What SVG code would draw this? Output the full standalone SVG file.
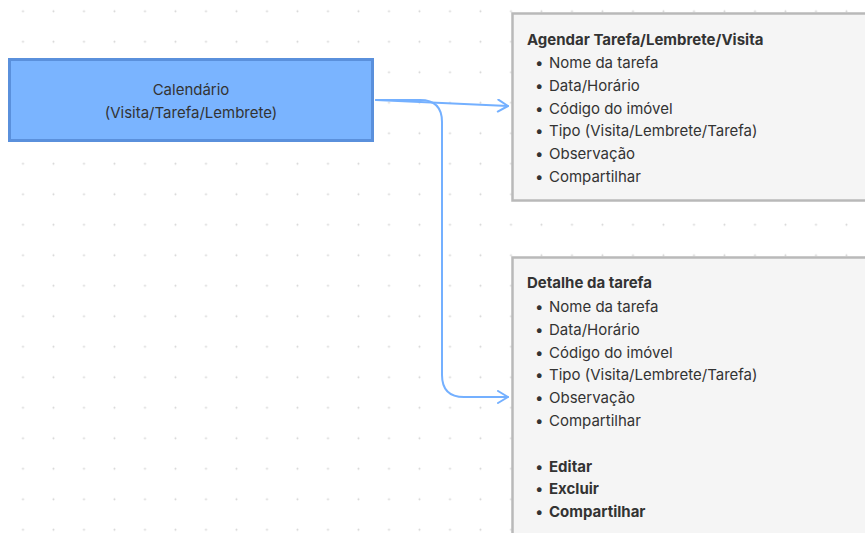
<svg xmlns="http://www.w3.org/2000/svg" width="865" height="533" viewBox="0 0 865 533">
<defs>
<pattern id="dots" x="0" y="0" width="30.5" height="30.5" patternUnits="userSpaceOnUse" patternTransform="translate(7.75 -4)">
<circle cx="15.25" cy="15.25" r="1" fill="#d4d4d4"/>
</pattern>
<marker id="arr" markerWidth="14" markerHeight="14" refX="12" refY="7" orient="auto" markerUnits="userSpaceOnUse">
<path d="M2,1 L12,7 L2,13" fill="none" stroke="#74b0ff" stroke-width="2" stroke-linecap="round" stroke-linejoin="round"/>
</marker>
<style>
.t{font-family:Inter,"Noto Sans","Liberation Sans",sans-serif;font-size:15px;fill:#333}
.b{font-weight:bold}
.card{fill:#f5f5f5;stroke:#b9b9b9;stroke-width:2.5}
.conn{fill:none;stroke:#74b0ff;stroke-width:2;stroke-linecap:round}
</style>
</defs>
<rect width="865" height="533" fill="#ffffff"/>
<rect width="865" height="533" fill="url(#dots)"/>
<g id="connectors">
<path class="conn" d="M376,100 L508,106" marker-end="url(#arr)"/>
<path class="conn" d="M376,100 L420,100 Q442,100 442,122 L442,375 Q442,397 464,397 L508,397" marker-end="url(#arr)"/>
</g>
<g id="calendario">
<rect x="9.5" y="59.5" width="363" height="81" fill="#7ab4ff" stroke="#5a90dc" stroke-width="3"/>
<text class="t" x="191" y="95" text-anchor="middle">Calendário</text>
<text class="t" x="191" y="118" text-anchor="middle">(Visita/Tarefa/Lembrete)</text>
</g>
<g id="agendar">
<rect class="card" x="512.5" y="13.5" width="360" height="187"/>
<text class="t b" x="527" y="45">Agendar Tarefa/Lembrete/Visita</text>
<g class="t">
<text x="535" y="68">•</text><text x="549" y="68">Nome da tarefa</text>
<text x="535" y="90.8">•</text><text x="549" y="90.8">Data/Horário</text>
<text x="535" y="113.6">•</text><text x="549" y="113.6">Código do imóvel</text>
<text x="535" y="136.4">•</text><text x="549" y="136.4">Tipo (Visita/Lembrete/Tarefa)</text>
<text x="535" y="159.2">•</text><text x="549" y="159.2">Observação</text>
<text x="535" y="182">•</text><text x="549" y="182">Compartilhar</text>
</g>
</g>
<g id="detalhe">
<rect class="card" x="512.5" y="257.5" width="360" height="290"/>
<text class="t b" x="527" y="288">Detalhe da tarefa</text>
<g class="t">
<text x="535" y="312">•</text><text x="549" y="312">Nome da tarefa</text>
<text x="535" y="334.8">•</text><text x="549" y="334.8">Data/Horário</text>
<text x="535" y="357.6">•</text><text x="549" y="357.6">Código do imóvel</text>
<text x="535" y="380.4">•</text><text x="549" y="380.4">Tipo (Visita/Lembrete/Tarefa)</text>
<text x="535" y="403.2">•</text><text x="549" y="403.2">Observação</text>
<text x="535" y="426">•</text><text x="549" y="426">Compartilhar</text>
<text x="535" y="471.6">•</text><text class="b" x="549" y="471.6">Editar</text>
<text x="535" y="494.4">•</text><text class="b" x="549" y="494.4">Excluir</text>
<text x="535" y="517.2">•</text><text class="b" x="549" y="517.2">Compartilhar</text>
</g>
</g>
</svg>
